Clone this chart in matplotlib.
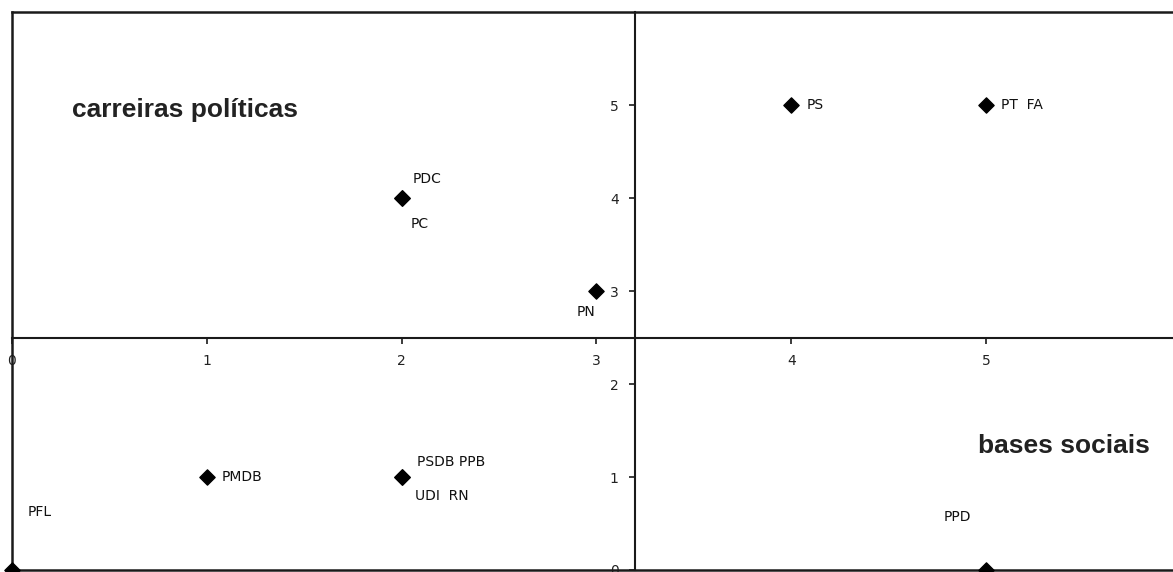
import matplotlib
matplotlib.use("Agg")
import matplotlib.pyplot as plt

# party positions (x = bases sociais, y = carreiras políticas)
labels = ["PS", "PT  FA", "PDC", "PC", "PN", "PMDB", "PSDB PPB", "UDI  RN", "PFL", "PPD"]
xs = [4, 5, 2, 2, 3, 1, 2, 2, 0, 5]
ys = [5, 5, 4, 4, 3, 1, 1, 1, 0, 0]
x_ticks = [0, 1, 2, 3, 4, 5]
y_ticks = [0, 1, 2, 3, 4, 5]
x_cross = 3.2
y_cross = 2.5

# label offsets in points and alignment
offsets = [(11, 0, "left"), (11, 0, "left"), (8, 14, "left"), (6.5, -19, "left"),
           (-1, -15, "right"), (11, 0, "left"), (11, 11, "left"), (10, -14, "left"),
           (11, 42, "left"), (-21, 38, "center")]

fig = plt.figure(figsize=(11.73, 5.72), dpi=100)
ax = fig.add_axes([0.0102, 0.0035, 0.9965, 0.9755])
ax.set_xlim(0, 6)
ax.set_ylim(0, 6)

ax.spines["right"].set_visible(False)
ax.spines["top"].set_visible(False)
ax.spines["left"].set_position(("data", x_cross))
ax.spines["bottom"].set_position(("data", y_cross))
for s in ["left", "bottom"]:
    ax.spines[s].set_linewidth(1.5)
    ax.spines[s].set_color("#1a1a1a")

# outer frame
ax.axvline(0, color="#1a1a1a", lw=1.8, clip_on=False)
ax.axhline(6, color="#1a1a1a", lw=1.8, clip_on=False)
ax.axhline(0, color="#1a1a1a", lw=1.8, clip_on=False)

ax.set_xticks(x_ticks)
ax.set_yticks(y_ticks)
ax.tick_params(direction="out", length=4, width=1.2, labelsize=10, pad=8,
               color="#1a1a1a", labelcolor="#222222")

ax.scatter(xs, ys, marker="D", s=60, color="black", zorder=5, clip_on=False)

for lab, x, y, (dx, dy, ha) in zip(labels, xs, ys, offsets):
    ax.annotate(lab, (x, y), xytext=(dx, dy), textcoords="offset points",
                ha=ha, va="center", fontsize=10, color="#111111")

ax.text(0.31, 4.95, "carreiras políticas", fontsize=19, fontweight="bold",
        family="Liberation Sans", va="center", ha="left", color="#222222")
ax.text(4.96, 1.33, "bases sociais", fontsize=19, fontweight="bold",
        family="Liberation Sans", va="center", ha="left", color="#222222")

fig.savefig("out.png", dpi=100)
